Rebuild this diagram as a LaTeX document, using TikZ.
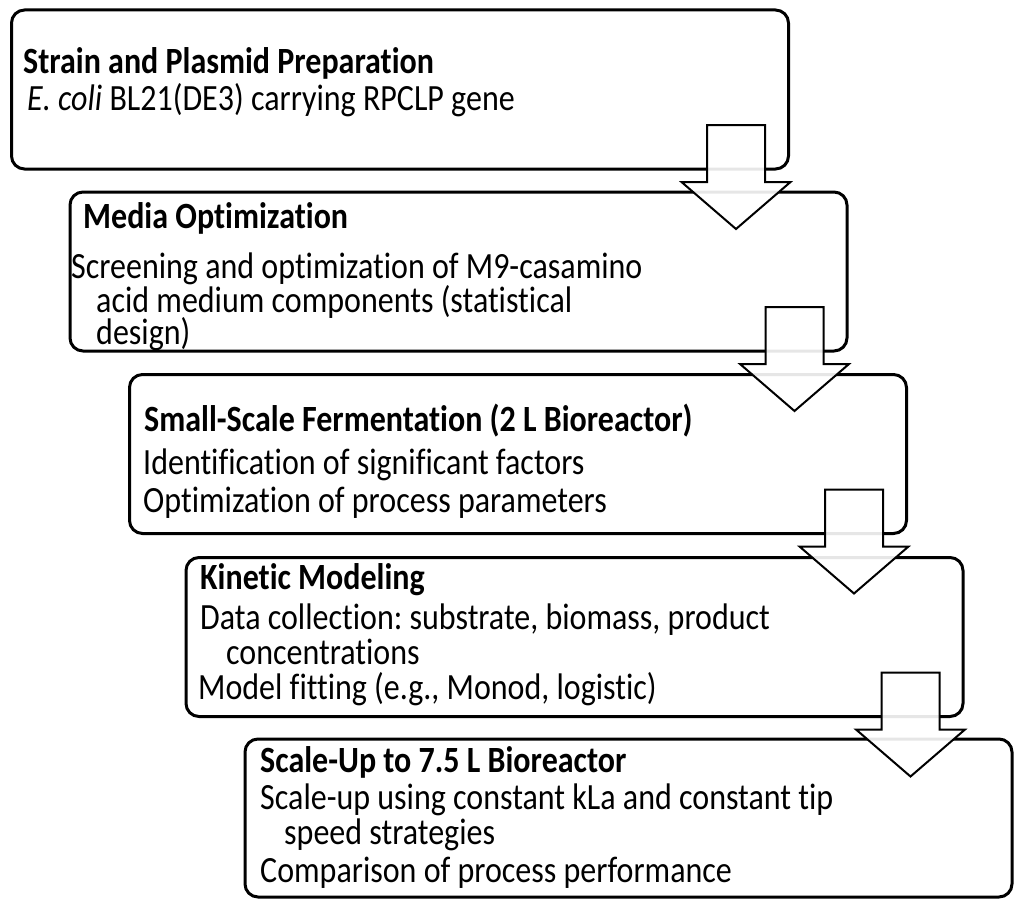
\documentclass[tikz,border=0pt]{standalone}
\usepackage{fontspec}
\setmainfont{Carlito}[Ligatures={NoCommon}, FakeStretch=0.865]
\usepackage{tikz}
\newcommand\stagefont{\fontsize{37}{42}\selectfont\frenchspacing}

\begin{document}
\begin{tikzpicture}[x=1pt, y=-1pt,
    stagebox/.style={draw, line width=3pt, rounded corners=13pt, minimum width=777pt,
      minimum height=159pt, inner sep=0pt, outer sep=0pt},
    headtext/.style={anchor=base west, inner sep=0pt, text height=24pt, text depth=7pt,
      font=\stagefont\bfseries},
    linetext/.style={anchor=base west, inner sep=0pt, text height=24pt, text depth=7pt,
      font=\stagefont},
    flowarrow/.style={draw, line width=2pt, fill=white, fill opacity=0.9}]
    \useasboundingbox (0,0) rectangle (1014,899);
    % the five stages
    \node[stagebox] (strain) at (400,89.5) {};
    \node[stagebox] (media) at (458.5,271.5) {};
    \node[stagebox] (small) at (518,454) {};
    \node[stagebox] (kinetic) at (574.5,637) {};
    \node[stagebox, minimum width=767pt, minimum height=158pt] (scaleup) at (628.5,818) {};
    % texts
    \node[headtext] (strainhead) at (23,74) {Strain and Plasmid Preparation};
    \node[linetext] (strainline) at (27,110) {\textit{E. coli} BL21(DE3) carrying RPCLP gene};
    \node[headtext] (mediahead) at (83,228) {Media Optimization};
    \node[linetext] (medialine1) at (71,278) {Screening and optimization of M9-casamino};
    \node[linetext] (medialine2) at (96,312) {acid medium components (statistical};
    \node[linetext] (medialine3) at (96,344) {design)};
    \node[headtext] (smallhead) at (144,431) {Small-Scale Fermentation (2 L Bioreactor)};
    \node[linetext] (smallline1) at (143,474) {Identification of significant factors};
    \node[linetext] (smallline2) at (143,512) {Optimization of process parameters};
    \node[headtext] (kinetichead) at (200,589) {Kinetic Modeling};
    \node[linetext] (kineticline1) at (200,629) {Data collection: substrate, biomass, product};
    \node[linetext] (kineticline2) at (226,664) {concentrations};
    \node[linetext] (kineticline3) at (198,699) {Model fitting (e.g., Monod, logistic)};
    \node[headtext] (scaleuphead) at (260,772) {Scale-Up to 7.5 L Bioreactor};
    \node[linetext] (scaleupline1) at (260,809) {Scale-up using constant kLa and constant tip};
    \node[linetext] (scaleupline2) at (284,844) {speed strategies};
    \node[linetext] (scaleupline3) at (260,882) {Comparison of process performance};
    % block arrows between the stages
    \coordinate (arstrain) at ([xshift=-52.5pt]strain.south east);
    \coordinate (armedia) at ([xshift=-52.5pt]media.south east);
    \coordinate (arsmall) at ([xshift=-52.5pt]small.south east);
    \coordinate (arkinetic) at ([xshift=-52.5pt]kinetic.south east);
    \draw[flowarrow] (arstrain) ++(-29,-44) -- ++(58,0) -- ++(0,57) -- ++(25.5,0) -- ++(-54.5,47) -- ++(-54.5,-47) -- ++(25.5,0) -- cycle;
    \draw[flowarrow] (armedia) ++(-29,-44) -- ++(58,0) -- ++(0,57) -- ++(25.5,0) -- ++(-54.5,47) -- ++(-54.5,-47) -- ++(25.5,0) -- cycle;
    \draw[flowarrow] (arsmall) ++(-29,-44) -- ++(58,0) -- ++(0,57) -- ++(25.5,0) -- ++(-54.5,47) -- ++(-54.5,-47) -- ++(25.5,0) -- cycle;
    \draw[flowarrow] (arkinetic) ++(-29,-44) -- ++(58,0) -- ++(0,57) -- ++(25.5,0) -- ++(-54.5,47) -- ++(-54.5,-47) -- ++(25.5,0) -- cycle;
\end{tikzpicture}
\end{document}
